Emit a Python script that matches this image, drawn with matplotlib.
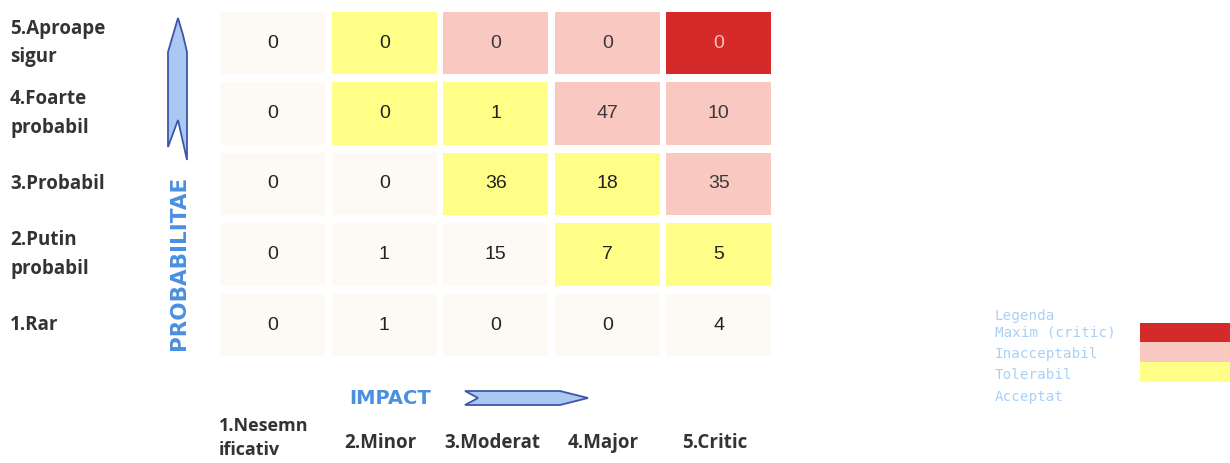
import matplotlib.pyplot as plt
from matplotlib.patches import Rectangle, Polygon
import matplotlib.transforms as mtrans

# ---- data ----
impact_labels = ['1.Nesemn\nificativ', '2.Minor', '3.Moderat', '4.Major', '5.Critic']
prob_labels = ['5.Aproape\nsigur', '4.Foarte\nprobabil', '3.Probabil', '2.Putin\nprobabil', '1.Rar']

# counts, rows top (5) -> bottom (1), cols impact 1 -> 5
counts = [
    [0, 0, 0, 0, 0],
    [0, 0, 1, 47, 10],
    [0, 0, 36, 18, 35],
    [0, 1, 15, 7, 5],
    [0, 1, 0, 0, 4],
]
# risk level per cell: 0 acceptat, 1 tolerabil, 2 inacceptabil, 3 maxim
levels = [
    [0, 1, 2, 2, 3],
    [0, 1, 1, 2, 2],
    [0, 0, 1, 1, 2],
    [0, 0, 0, 1, 1],
    [0, 0, 0, 0, 0],
]
legend_names = ['Maxim (critic)', 'Inacceptabil', 'Tolerabil', 'Acceptat']
legend_levels = [3, 2, 1, 0]

level_colors = {0: '#fdfaf5', 1: '#ffff88', 2: '#f9c8c0', 3: '#d42a2a'}
text_colors = {0: '#222222', 1: '#222222', 2: '#3a3a3a', 3: '#f6c4c0'}
blue = '#4a8fe0'

W, H = 1230, 463
fig = plt.figure(figsize=(W / 100, H / 100), dpi=100)

# overlay axes in pixel coords for decorations
deco = fig.add_axes([0, 0, 1, 1])
deco.set_xlim(0, W)
deco.set_ylim(H, 0)
deco.axis('off')

# grid axes: column pitch ~111.5 px, row pitch ~70.5 px
left, right = 217, 217 + 5 * 111.5
top, bottom = 7.75, 7.75 + 5 * 70.5
ax = fig.add_axes([left / W, 1 - bottom / H, (right - left) / W, (bottom - top) / H])
ax.set_xlim(-0.5, 4.5)
ax.set_ylim(4.5, -0.5)
ax.axis('off')

cw, ch = 0.94, 0.88
for i, row in enumerate(counts):
    for j, v in enumerate(row):
        lv = levels[i][j]
        ax.add_patch(Rectangle((j - cw / 2, i - ch / 2), cw, ch,
                               facecolor=level_colors[lv], edgecolor='none'))
        ax.text(j, i, str(v), ha='center', va='center', fontsize=14,
                family='Liberation Sans', color=text_colors[lv])

# row labels (left aligned at the figure edge)
tr = mtrans.blended_transform_factory(fig.transFigure, ax.transData)
for i, lab in enumerate(prob_labels):
    ax.text(10 / W, i, lab, transform=tr, ha='left', va='center',
            fontsize=13.5, fontweight='bold', family='Open Sans',
            color='#333333', linespacing=1.55)

# column labels
trx = mtrans.blended_transform_factory(ax.transData, fig.transFigure)
for j, lab in enumerate(impact_labels):
    if j == 0:
        ax.text(j - 0.48, 1 - 438 / H, lab, transform=trx, ha='left', va='center',
                fontsize=13, fontweight='bold', family='Open Sans',
                color='#333333', linespacing=1.4)
    else:
        ax.text(j - 0.035, 1 - 443 / H, lab, transform=trx, ha='center', va='center',
                fontsize=13.5, fontweight='bold', family='Open Sans', color='#333333')

# axis titles
deco.text(390, 398, 'IMPACT', ha='center', va='center', fontsize=14,
          fontweight='bold', color=blue, family='DejaVu Sans')
deco.text(179, 263, 'PROBABILITAE', ha='center', va='center', rotation=90,
          fontsize=15.5, fontweight='bold', color=blue, family='DejaVu Sans')

# arrows
varrow = [(178, 18), (183, 35), (187, 52), (187, 160), (178, 120),
          (168, 147), (168, 52), (173, 35)]
harrow = [(465, 391), (560, 391), (588, 398), (560, 405), (465, 405), (478, 398)]
for pts in (varrow, harrow):
    deco.add_patch(Polygon(pts, closed=True, facecolor='#a9c8f2',
                           edgecolor='#3f56a8', linewidth=1.3))

# legend
leg_color = '#a9d0f6'
deco.text(995, 316, 'Legenda', ha='left', va='center', fontsize=10.3,
          family='DejaVu Sans Mono', color=leg_color)
ys = [333, 354, 375, 397]
for name, lv, y in zip(legend_names, legend_levels, ys):
    deco.text(995, y, name, ha='left', va='center', fontsize=10.3,
              family='DejaVu Sans Mono', color=leg_color)
sw_top = [323, 342, 362]
for lv, y in zip(legend_levels[:3], sw_top):
    deco.add_patch(Rectangle((1140, y), 90, 20, facecolor=level_colors[lv],
                             edgecolor='none'))

fig.savefig('out.png', dpi=100)
